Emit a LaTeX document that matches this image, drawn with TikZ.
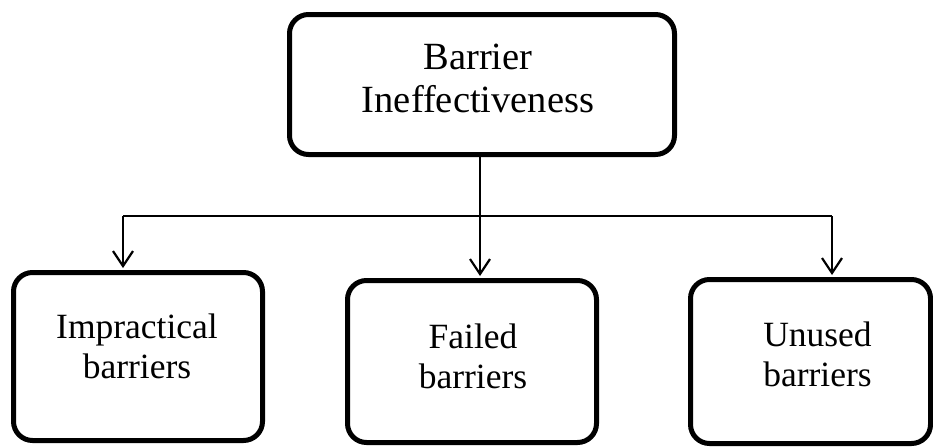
\documentclass[tikz,border=0pt]{standalone}
\usepackage{fontspec}
\setmainfont{Liberation Serif}
\usetikzlibrary{arrows.meta}
\begin{document}
\begin{tikzpicture}[x=1pt,y=-1pt,
  box/.style={draw, line width=5pt, rounded corners=19pt, inner sep=0pt},
  bigtext/.style={align=center, inner sep=0pt, font=\fontsize{38.5}{42.5}\selectfont},
  smalltext/.style={align=center, inner sep=0pt, font=\fontsize{35.5}{40}\selectfont},
  wire/.style={line width=2.2pt},
  link/.style={wire, shorten >=2pt, -{Straight Barb[length=15pt,width=20pt,line width=2.2pt]}}]
\useasboundingbox (0,0) rectangle (933,447);
% root box and its caption
\node[box, minimum width=385pt, minimum height=140pt] (top) at (482,84.5) {};
\node[bigtext] (top-t) at (478,78.5) {Barrier\\Ineffectiveness};
% child boxes and their captions
\node[box, minimum width=249pt, minimum height=168pt] (imp) at (138,356.5) {};
\node[smalltext] (imp-t) at (137,346) {Impractical\\barriers};
\node[box, minimum width=249pt, minimum height=162pt] (fail) at (472,361.5) {};
\node[smalltext] (fail-t) at (473,356) {Failed\\barriers};
\node[box, minimum width=240pt, minimum height=164pt] (unused) at (810.5,361.5) {};
\node[smalltext] (unused-t) at (817.5,354) {Unused\\barriers};
% branching connectors
\coordinate (jm) at (480,216);
\coordinate (jl) at (123,216);
\coordinate (jr) at (832,216);
\draw[wire] (jm |- top.south) -- (jm);
\draw[wire] (jl) -- (jr);
\draw[link] (jl) -- (jl |- imp.north);
\draw[link] (jm) -- (jm |- fail.north);
\draw[link] (jr) -- (jr |- unused.north);
\end{tikzpicture}
\end{document}
